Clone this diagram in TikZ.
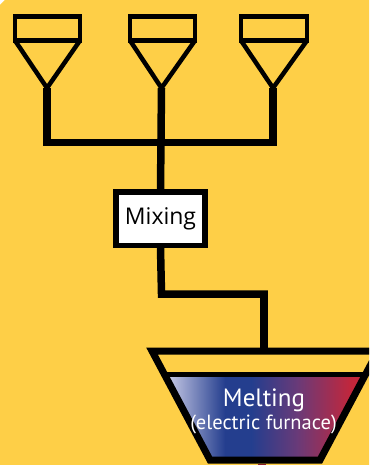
\documentclass[tikz,border=0pt]{standalone}
\usepackage{fontspec}
\setmainfont{Open Sans}
\newfontfamily\furnacefont{PT Sans}
\usetikzlibrary{calc}
\definecolor{bgyellow}{HTML}{FECF47}
\definecolor{furnblue}{HTML}{243E8E}
\definecolor{furnlight}{HTML}{C8CAE6}
\definecolor{furnpurple}{HTML}{6A3A78}
\definecolor{furnred}{HTML}{C4263A}
\definecolor{darkred}{HTML}{8E1B24}
\tikzset{
  hopperline/.style={line width=4.5pt, line join=miter},
  pipe/.style={line width=7.5pt, line join=miter, line cap=rect},
  mixbox/.style={draw, fill=white, line width=5.5pt, minimum width=89pt, minimum height=53.5pt,
    inner sep=0pt, font=\fontsize{23}{26}\selectfont},
  furnline/.style={line width=7pt, line join=miter},
  furntext/.style={text=white, inner sep=0pt, anchor=base, font=\furnacefont}
}
\begin{document}
\begin{tikzpicture}[x=1pt,y=-1pt]
\useasboundingbox (0,0) rectangle (369,465);
\fill[bgyellow] (0,5) -- (5,0) -- (369,0) -- (369,465) -- (0,465) -- cycle;
% hoppers
\foreach \l/\r/\a/\n in {15/80/47/h1, 130/195/161.5/h2, 241/307/273/h3}{
  \draw[hopperline] (\l,16.5) rectangle (\r,40.5);
  \draw[hopperline] (\l,40.5) -- (\a,88) -- (\r,40.5);
  \coordinate (\n) at (\a,88);
}
\coordinate (bar1) at (47,142.5);
\coordinate (bar2) at (161.5,142.5);
\coordinate (bar3) at (273,142.5);
% mixing
\node[mixbox] (mix) at (160.5,218.5) {Mixing};
% furnace
\begin{scope}
\clip (0,0) rectangle (369,465);
\coordinate (ftl) at (152,351);
\coordinate (ftr) at (378,351);
\coordinate (fbr) at (320,460);
\coordinate (fbl) at (210,460);
\coordinate (fdl) at ($(ftl)!0.22!(fbl)$);
\coordinate (fdr) at ($(ftr)!0.22!(fbr)$);
\begin{scope}
\clip (fdl) -- (fdr) -- (fbr) -- (fbl) -- cycle;
\fill[furnlight] (150,370) rectangle (168,462);
\shade[left color=furnlight, right color=furnblue] (167.5,370) rectangle (225,462);
\fill[furnblue] (224.5,370) rectangle (252,462);
\shade[left color=furnblue, right color=furnpurple] (251.5,370) rectangle (298,462);
\shade[left color=furnpurple, right color=furnred] (297.5,370) rectangle (352,462);
\fill[furnred] (351.5,370) rectangle (372,462);
\end{scope}
\draw[furnline] (ftl) -- (ftr) -- (fbr) -- (fbl) -- cycle;
\draw[line width=5pt] (fdl) -- (fdr);
\end{scope}
\fill[darkred] (258,463.5) rectangle (266,465);
\coordinate (fin) at (264,351);
\coordinate (elbowA) at (161.5,294);
\coordinate (elbowB) at (264,294);
\node[furntext, font=\furnacefont\fontsize{25}{28}\selectfont] (melt) at (264,406) {Melting};
\node[furntext, font=\furnacefont\fontsize{20.5}{23}\selectfont] (elec) at (263.5,429) {(electric furnace)};
% pipes
\draw[pipe, line cap=butt] (h1) -- (bar1);
\draw[pipe, line cap=butt] (h3) -- (bar3);
\draw[pipe] (bar1) -- (bar3);
\draw[pipe, line cap=butt] (h2) -- (mix.north);
\draw[pipe, line cap=butt] (mix.south) -- (elbowA) -- ([xshift=3.75pt]elbowB) ;
\draw[pipe, line cap=butt] ([yshift=-3.75pt]elbowB) -- (fin);
\end{tikzpicture}
\end{document}
